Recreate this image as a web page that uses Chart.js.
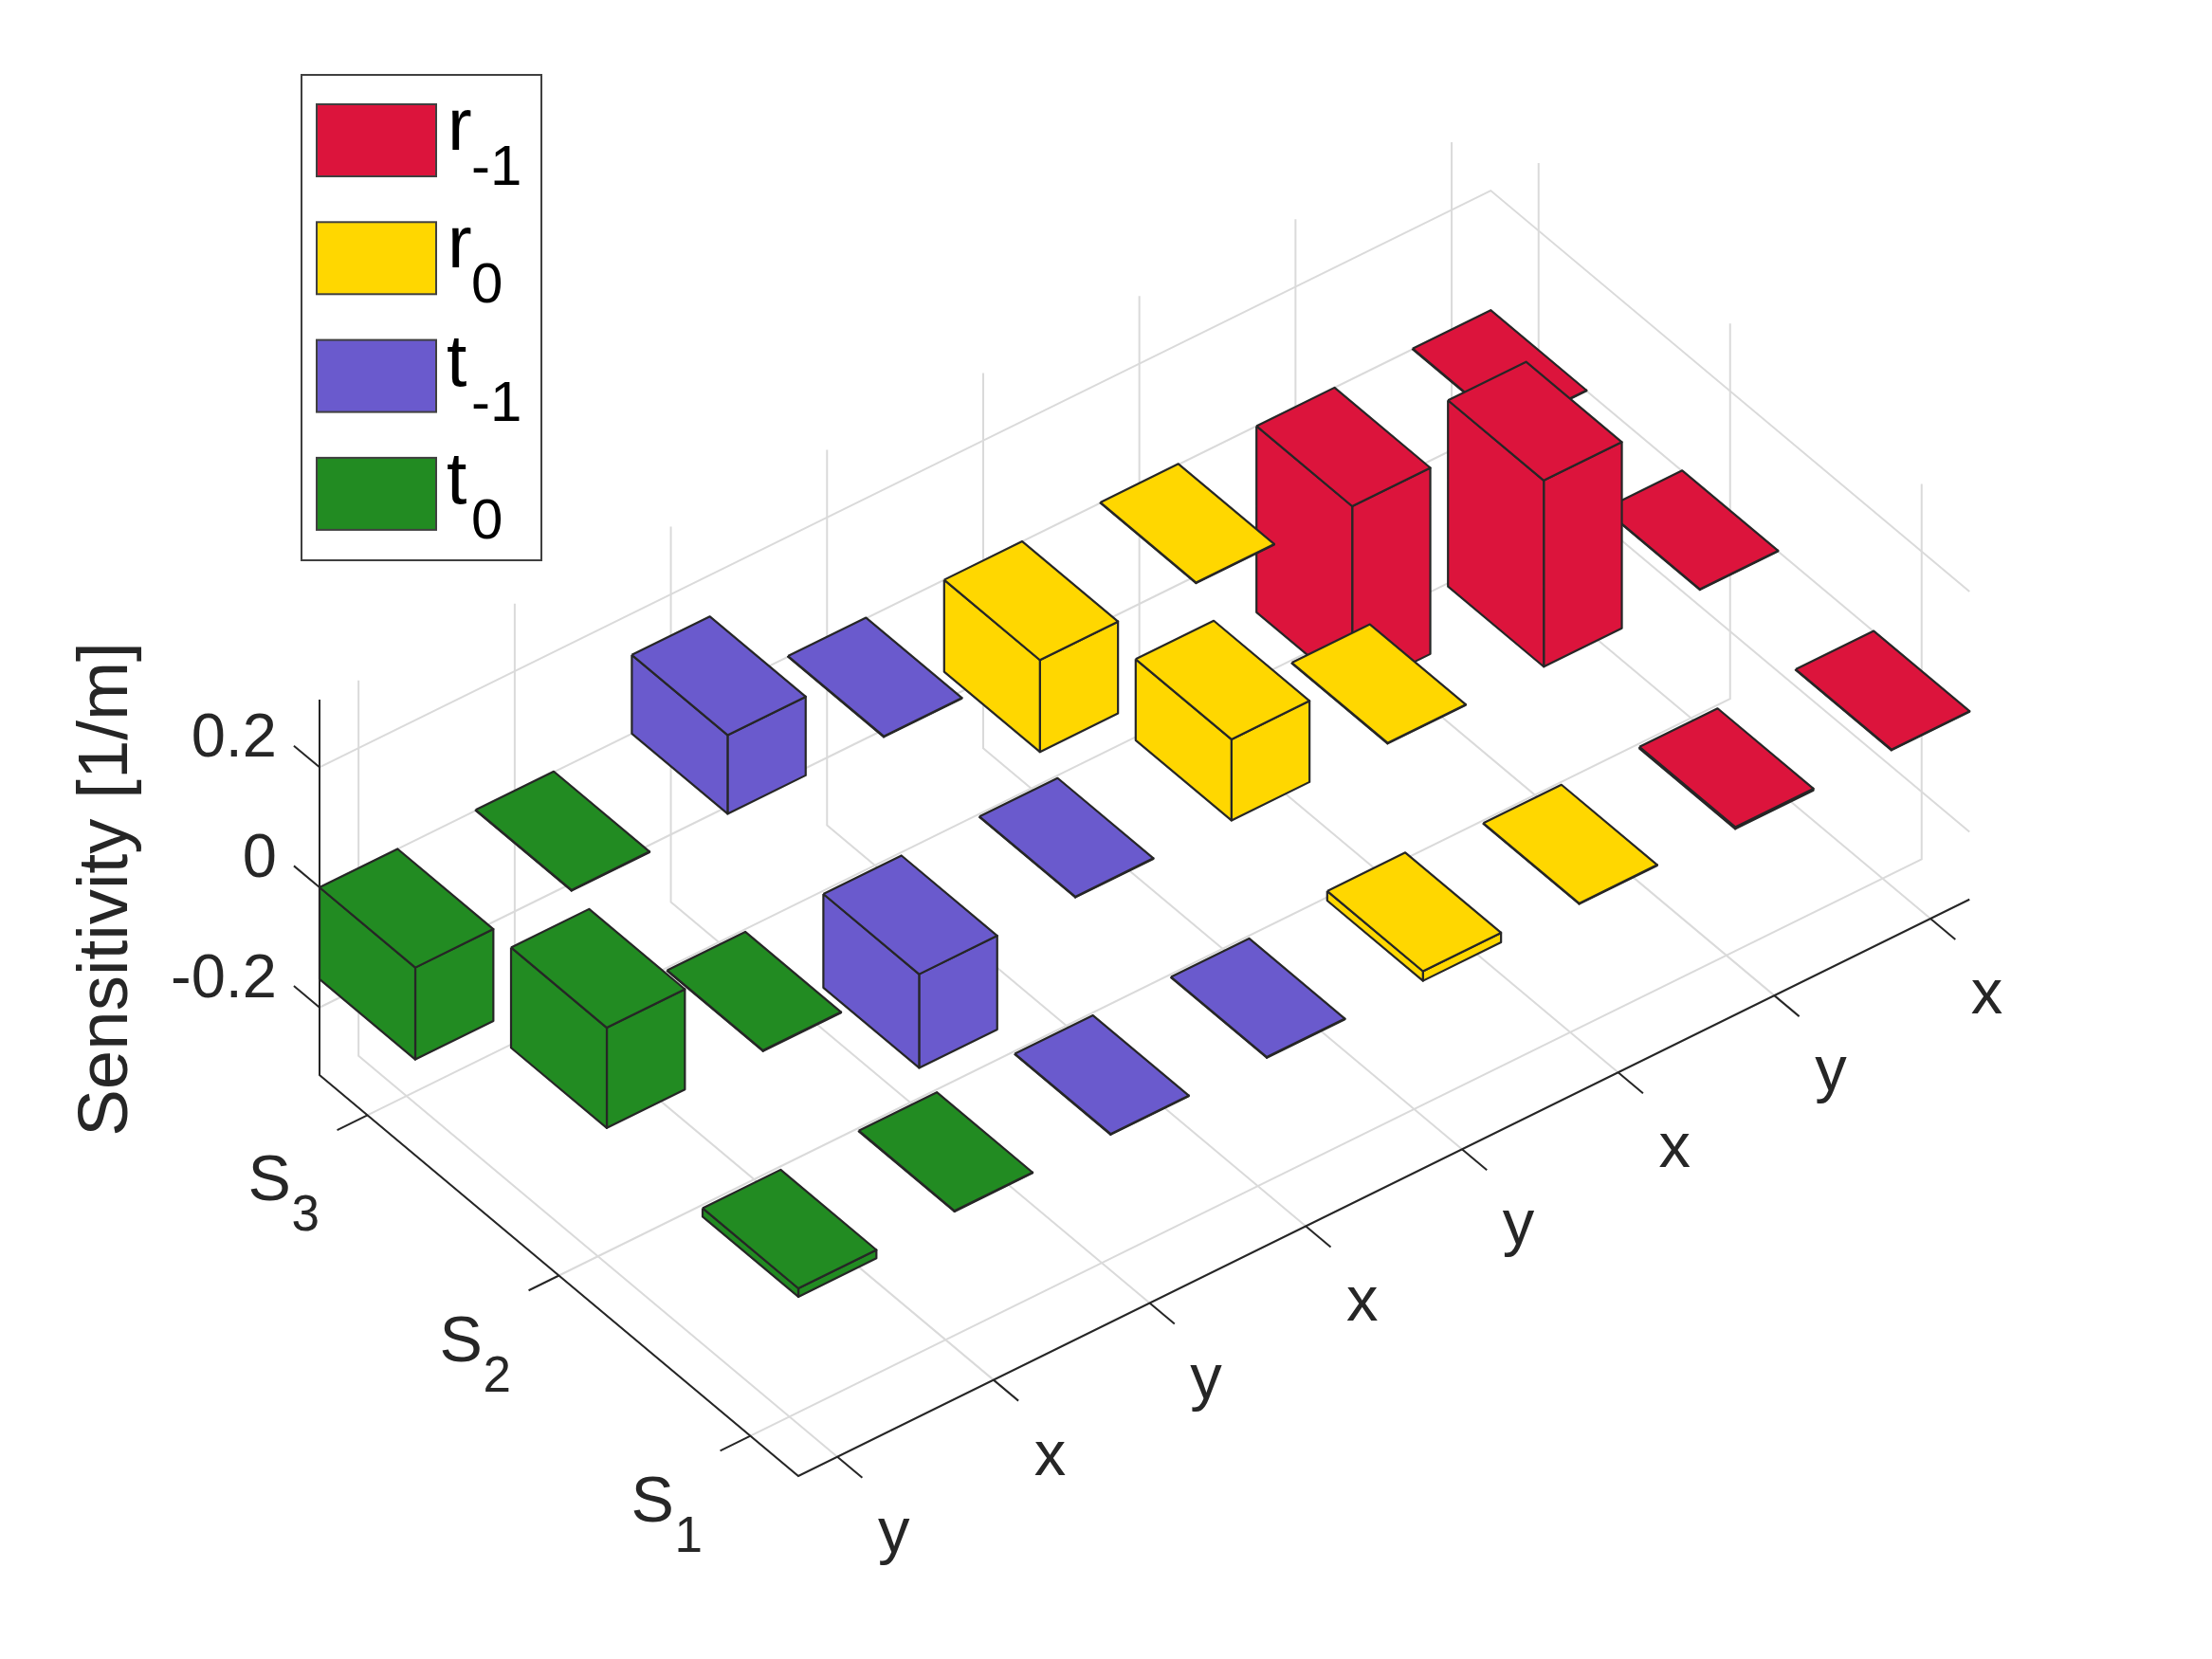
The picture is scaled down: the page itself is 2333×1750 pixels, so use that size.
<!DOCTYPE html>
<html>
<head>
<meta charset="utf-8">
<title>Sensitivity</title>
<script src="https://cdn.jsdelivr.net/npm/chart.js@4"></script>
<style>
    html, body { margin: 0; padding: 0; background: #fff; }
    canvas { display: block; }
</style>
</head>
<body>
<canvas id="barChart" width="2333" height="1750"></canvas>
<script>
// Data
const xCategories = ['y', 'x', 'y', 'x', 'y', 'x', 'y', 'x'];
const sensorNames = ['1', '2', '3'];
const zTicks = [-0.2, 0, 0.2];
const zTickLabels = ['-0.2', '0', '0.2'];
const s1Values = [-0.014, 0.001, 0.001, 0.001, 0.016, 0.001, -0.003, 0.001];
const s2Values = [0.167, 0.001, -0.156, 0.001, 0.135, 0.001, 0.31, 0.001];
const s3Values = [-0.153, 0.001, 0.131, 0.001, -0.153, 0.001, -0.31, 0.001];
const legendBase = ['r', 'r', 't', 't'];
const legendSub = ['-1', '0', '-1', '0'];
const legendColors = ['#DC143C', '#FFD700', '#6A5ACD', '#228B22'];
const columnSeries = [3, 3, 2, 2, 1, 1, 0, 0]; // which legend entry each x column belongs to

const sValues = [s1Values, s2Values, s3Values];

// Axis limits and bar size
const xMin = 0.75, xMax = 8.25;
const sMin = 0.75, sMax = 3.25;
const zMin = -0.3125, zMax = 0.3125;
const halfBar = 0.25;

const GRID = '#dadada';
const AXIS = '#262626';
const EDGE = '#262626';
const FONT = '"Liberation Sans", Arial, sans-serif';

// Oblique view: data coordinates to the chart's flat plane
function project(x, s, z) {
    return {
        x: 842 + (x - xMin) * 164.7 - (s - sMin) * 202,
        y: 1557 - (x - xMin) * 81.1 - (s - sMin) * 169.2 - (z - zMin) * 633.5
    };
}

function polyline(points, color, width) {
    return {
        data: points,
        showLine: true,
        borderColor: color,
        borderWidth: width,
        pointRadius: 0,
        fill: false,
        clip: false
    };
}

function face(points, color) {
    return {
        data: points.concat([points[0]]),
        showLine: true,
        backgroundColor: color,
        borderColor: EDGE,
        borderWidth: 2.2,
        borderJoinStyle: 'round',
        pointRadius: 0,
        fill: 'shape',
        clip: false
    };
}

// Chart.js paints the first dataset on top, so go from the nearest bar to the farthest
function buildBars() {
    const faces = [];
    for (let s = 0; s < sValues.length; s++) {
        for (let c = 0; c < xCategories.length; c++) {
            const v = sValues[s][c];
            const color = legendColors[columnSeries[c]];
            const x0 = c + 1 - halfBar, x1 = c + 1 + halfBar;
            const s0 = s + 1 - halfBar, s1 = s + 1 + halfBar;
            const top = Math.max(0, v), bottom = Math.min(0, v);
            faces.push(face([project(x0, s1, top), project(x1, s1, top), project(x1, s0, top), project(x0, s0, top)], color));
            faces.push(face([project(x0, s1, top), project(x0, s0, top), project(x0, s0, bottom), project(x0, s1, bottom)], color));
            faces.push(face([project(x0, s0, top), project(x1, s0, top), project(x1, s0, bottom), project(x0, s0, bottom)], color));
        }
    }
    return faces;
}

function buildAxes() {
    const lines = [];
    lines.push(polyline([project(xMin, sMax, zMax), project(xMin, sMax, zMin), project(xMin, sMin, zMin), project(xMax, sMin, zMin)], AXIS, 2));
    xCategories.forEach((name, i) => {
        lines.push(polyline([project(i + 1, sMin, zMin), project(i + 1, sMin - 0.13, zMin)], AXIS, 2));
    });
    sensorNames.forEach((name, i) => {
        lines.push(polyline([project(xMin, i + 1, zMin), project(xMin - 0.194, i + 1, zMin)], AXIS, 2));
    });
    zTicks.forEach(z => {
        lines.push(polyline([project(xMin, sMax, z), project(xMin, sMax + 0.134, z)], AXIS, 2));
    });
    return lines;
}

function buildGrid() {
    const lines = [];
    xCategories.forEach((name, i) => {
        lines.push(polyline([project(i + 1, sMin, zMin), project(i + 1, sMax, zMin), project(i + 1, sMax, zMax)], GRID, 2));
    });
    sensorNames.forEach((name, i) => {
        lines.push(polyline([project(xMin, i + 1, zMin), project(xMax, i + 1, zMin), project(xMax, i + 1, zMax)], GRID, 2));
    });
    zTicks.forEach(z => {
        lines.push(polyline([project(xMin, sMax, z), project(xMax, sMax, z), project(xMax, sMin, z)], GRID, 2));
    });
    return lines;
}

// Tick labels, axis title and legend: subscripts need more than the built-in text
const labelPlugin = {
    id: 'labelPlugin',
    afterDraw(chart) {
        const ctx = chart.ctx;
        const px = p => ({ x: chart.scales.x.getPixelForValue(p.x), y: chart.scales.y.getPixelForValue(p.y) });
        ctx.save();
        ctx.fillStyle = AXIS;
        ctx.textBaseline = 'alphabetic';

        ctx.font = '67px ' + FONT;
        ctx.textAlign = 'center';
        xCategories.forEach((name, i) => {
            const p = px(project(i + 1, sMin, zMin));
            ctx.fillText(name, p.x + 59.5, p.y + 100);
        });

        ctx.font = '65px ' + FONT;
        ctx.textAlign = 'right';
        zTicks.forEach((z, i) => {
            const p = px(project(xMin, sMax, z));
            ctx.fillText(zTickLabels[i], p.x - 45, p.y - 11);
        });

        ctx.textAlign = 'left';
        sensorNames.forEach((name, i) => {
            const p = px(project(xMin, i + 1, zMin));
            ctx.font = '68px ' + FONT;
            ctx.fillText('S', p.x - 126, p.y + 90);
            ctx.font = '53px ' + FONT;
            ctx.fillText(name, p.x - 80, p.y + 122);
        });

        ctx.save();
        ctx.translate(134, 938);
        ctx.rotate(-Math.PI / 2);
        ctx.textAlign = 'center';
        ctx.font = '74.5px ' + FONT;
        ctx.fillText('Sensitivity [1/m]', 0, 0);
        ctx.restore();

        // Legend
        ctx.fillStyle = '#fff';
        ctx.fillRect(318, 79, 253, 512);
        ctx.strokeStyle = '#404040';
        ctx.lineWidth = 2;
        ctx.strokeRect(318, 79, 253, 512);
        ctx.textAlign = 'left';
        legendBase.forEach((base, i) => {
            const top = 110 + i * 124.3;
            ctx.fillStyle = legendColors[i];
            ctx.fillRect(334, top, 126, 76);
            ctx.strokeStyle = '#404040';
            ctx.lineWidth = 2;
            ctx.strokeRect(334, top, 126, 76);
            ctx.fillStyle = '#000';
            ctx.font = '77px ' + FONT;
            ctx.fillText(base, base === 'r' ? 472 : 471, top + 48);
            ctx.font = '60px ' + FONT;
            ctx.fillText(legendSub[i], 497, top + 85);
        });
        ctx.restore();
    }
};

// Initialize Chart.js
const chartElement = document.getElementById('barChart');
const chart = new Chart(chartElement.getContext('2d'), {
    type: 'scatter',
    data: {
        datasets: buildBars().concat(buildAxes(), buildGrid())
    },
    options: {
        responsive: false,
        animation: false,
        layout: { padding: 0 },
        plugins: {
            legend: { display: false },
            tooltip: { enabled: false }
        },
        scales: {
            x: { type: 'linear', display: false, min: 0, max: 2333 },
            y: { type: 'linear', display: false, reverse: true, min: 0, max: 1750 }
        }
    },
    plugins: [labelPlugin]
});
</script>
</body>
</html>
